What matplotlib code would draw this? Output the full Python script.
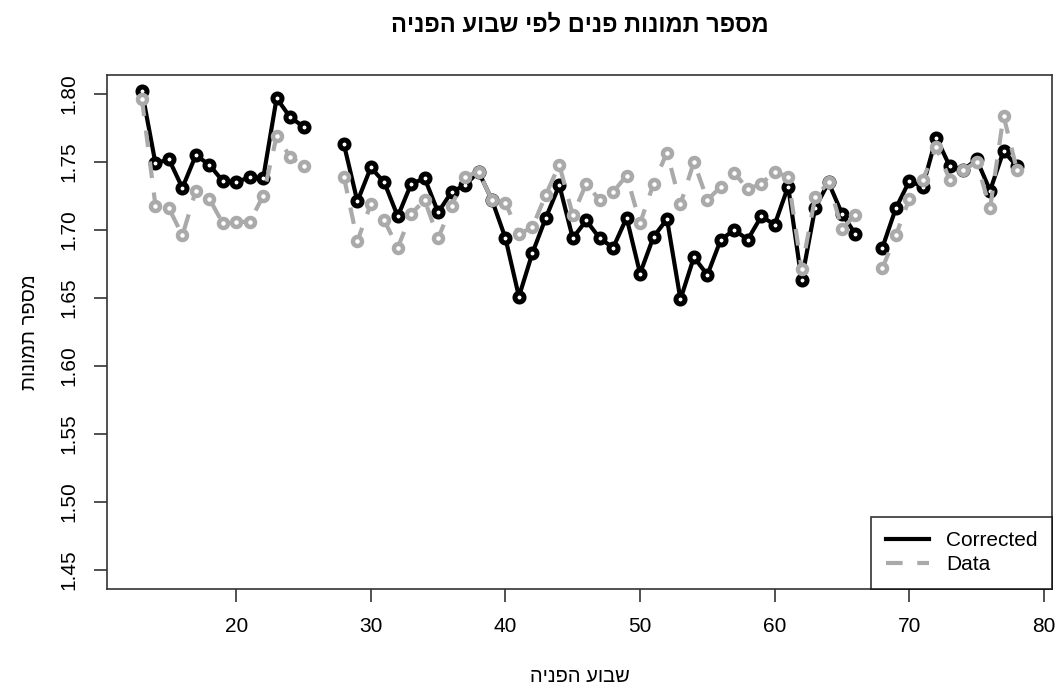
import matplotlib
matplotlib.use("Agg")
import matplotlib.pyplot as plt
from matplotlib.lines import Line2D
import numpy as np

plt.rcParams['font.family'] = ['Liberation Sans', 'DejaVu Sans']

weeks = [13, 14, 15, 16, 17, 18, 19, 20, 21, 22, 23, 24, 25, 26, 27,
         28, 29, 30, 31, 32, 33, 34, 35, 36, 37, 38, 39, 40, 41, 42, 43, 44, 45,
         46, 47, 48, 49, 50, 51, 52, 53, 54, 55, 56, 57, 58, 59, 60, 61, 62, 63,
         64, 65, 66, 67, 68, 69, 70, 71, 72, 73, 74, 75, 76, 77, 78]

corrected = [1.802, 1.749, 1.752, 1.731, 1.755, 1.748, 1.736, 1.735, 1.739, 1.738, 1.797, 1.783, 1.776, None, None,
             1.763, 1.721, 1.746, 1.735, 1.710, 1.734, 1.738, 1.713, 1.728, 1.733, 1.743, 1.722, 1.694, 1.651, 1.683, 1.709, 1.733, 1.694,
             1.707, 1.694, 1.687, 1.709, 1.668, 1.695, 1.708, 1.649, 1.680, 1.667, 1.693, 1.700, 1.693, 1.710, 1.704, 1.732, 1.663, 1.716,
             1.735, 1.712, 1.697, None, 1.687, 1.716, 1.736, 1.732, 1.768, 1.747, 1.744, 1.752, 1.729, 1.758, 1.747]

data = [1.796, 1.718, 1.716, 1.696, 1.729, 1.723, 1.705, 1.706, 1.706, 1.725, 1.769, 1.754, 1.747, None, None,
        1.739, 1.692, 1.719, 1.707, 1.687, 1.712, 1.722, 1.694, 1.718, 1.739, 1.743, 1.722, 1.720, 1.697, 1.702, 1.726, 1.748, 1.711,
        1.734, 1.722, 1.728, 1.740, 1.705, 1.734, 1.757, 1.719, 1.750, 1.722, 1.732, 1.742, 1.730, 1.734, 1.743, 1.739, 1.671, 1.724,
        1.735, 1.701, 1.711, None, 1.672, 1.696, 1.723, 1.737, 1.761, 1.737, 1.744, 1.750, 1.716, 1.784, 1.744]

yticks = [1.45, 1.50, 1.55, 1.60, 1.65, 1.70, 1.75, 1.80]
xticks = [20, 30, 40, 50, 60, 70, 80]

title = "מספר תמונות פנים לפי שבוע הפניה"
xlab = "שבוע הפניה"
ylab = "מספר תמונות"
leg_labels = ["Corrected", "Data"]


def vis(s):
    # matplotlib has no bidi support: reverse Hebrew into visual order
    return s[::-1]


x = np.array(weeks, dtype=float)
yc = np.array([np.nan if v is None else v for v in corrected])
yd = np.array([np.nan if v is None else v for v in data])

W, H = 1057, 693
fig = plt.figure(figsize=(W / 100, H / 100), dpi=100)
ax = fig.add_axes([107 / W, (H - 589) / H, (1052 - 107) / W, (589 - 75) / H])

gray = '#aaaaaa'
ax.plot(x, yc, color='black', lw=3.0, solid_capstyle='butt', zorder=3,
        marker='o', ms=6.5, mfc='white', mec='black', mew=3.6)
ax.plot(x, yd, color=gray, lw=3.0, dashes=(4, 3.5), zorder=4,
        marker='o', ms=6.5, mfc='white', mec=gray, mew=3.2)

ax.set_xlim(10.4, 80.6)
ax.set_ylim(1.436, 1.814)
ax.set_xticks(xticks)
ax.set_yticks(yticks)
ax.set_yticklabels([f"{v:.2f}" for v in yticks], rotation=90, va='center')
ax.tick_params(direction='out', length=9.4, width=1.2, labelsize=15, color='#333333')
ax.tick_params(axis='x', pad=11)
ax.tick_params(axis='y', pad=11)
for sp in ax.spines.values():
    sp.set_color('#333333')
    sp.set_linewidth(1.2)

ax.set_title(vis(title), fontsize=17, fontweight='bold', pad=31)
ax.set_xlabel(vis(xlab), fontsize=14.5, labelpad=22)
ax.set_ylabel(vis(ylab), fontsize=14.5, labelpad=15)

h1 = Line2D([], [], color='black', lw=3.0)
h2 = Line2D([], [], color=gray, lw=3.0, dashes=(4, 3.5))
leg = ax.legend([h1, h2], leg_labels, loc='lower right', fontsize=15,
                frameon=True, fancybox=False, borderaxespad=0,
                handlelength=2.1, handletextpad=0.8, labelspacing=0.25,
                borderpad=0.7)
leg.get_frame().set_edgecolor('black')
leg.get_frame().set_linewidth(1.2)

fig.savefig("out.png", dpi=100)
